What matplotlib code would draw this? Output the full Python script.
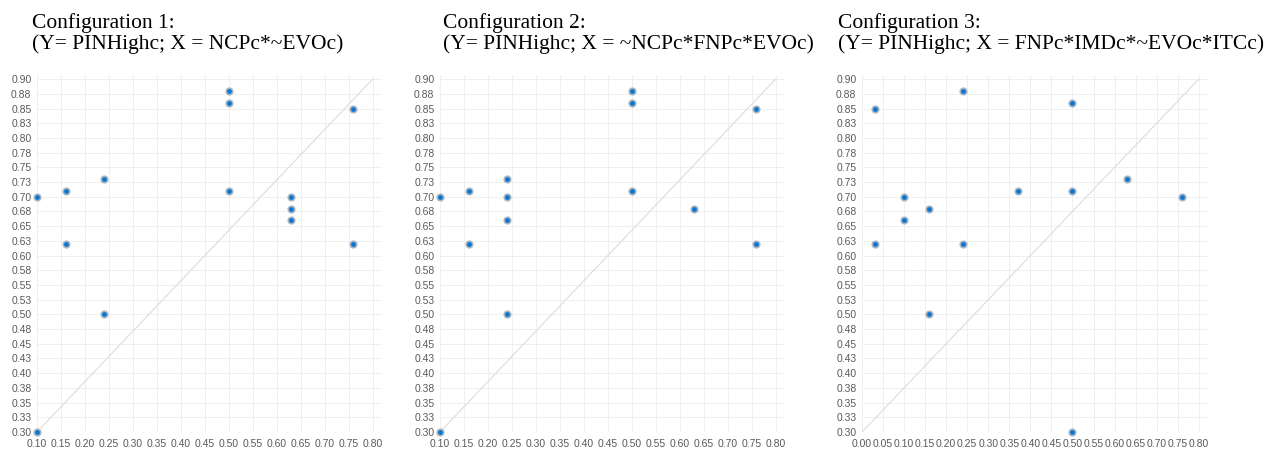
import numpy as np
from matplotlib import pyplot as plt

# fuzzy-set membership scores
x1 = [0.10, 0.10, 0.16, 0.16, 0.24, 0.24, 0.50, 0.50, 0.50, 0.63, 0.63, 0.63, 0.76, 0.76]
y1 = [0.70, 0.30, 0.71, 0.62, 0.73, 0.50, 0.88, 0.86, 0.71, 0.70, 0.68, 0.66, 0.85, 0.62]

x2 = [0.10, 0.10, 0.16, 0.16, 0.24, 0.24, 0.24, 0.24, 0.50, 0.50, 0.50, 0.63, 0.76, 0.76]
y2 = [0.70, 0.30, 0.71, 0.62, 0.73, 0.70, 0.66, 0.50, 0.88, 0.86, 0.71, 0.68, 0.85, 0.62]

x3 = [0.03, 0.03, 0.10, 0.10, 0.16, 0.16, 0.24, 0.24, 0.37, 0.50, 0.50, 0.50, 0.63, 0.76]
y3 = [0.85, 0.62, 0.70, 0.66, 0.68, 0.50, 0.88, 0.62, 0.71, 0.86, 0.71, 0.30, 0.73, 0.70]

titles = ["Configuration 1:\n(Y= PINHighc; X = NCPc*~EVOc)",
          "Configuration 2:\n(Y= PINHighc; X = ~NCPc*FNPc*EVOc)",
          "Configuration 3:\n(Y= PINHighc; X = FNPc*IMDc*~EVOc*ITCc)"]

xstart = [0.10, 0.10, 0.00]

ytick_labels = ["0.30", "0.33", "0.35", "0.38", "0.40", "0.43", "0.45", "0.48", "0.50",
                "0.53", "0.55", "0.58", "0.60", "0.63", "0.65", "0.68", "0.70", "0.73",
                "0.75", "0.78", "0.80", "0.83", "0.85", "0.88", "0.90"]

fig = plt.figure(figsize=(12.8, 4.5), dpi=100)
plt.rcParams['font.family'] = ['Liberation Sans', 'DejaVu Sans']

lefts = [37/1280, 440/1280, 862/1280]
title_x = [32/1280, 443/1280, 838/1280]
w = 345/1280
b = 1 - 432/450
h = (432-75)/450

data = [(x1, y1), (x2, y2), (x3, y3)]
for i in range(3):
    ax = fig.add_axes([lefts[i], b, w, h])
    xs, ys = data[i]
    x0 = xstart[i]
    xt = np.round(np.arange(x0, 0.8001, 0.05), 2)
    yt = np.linspace(0.30, 0.90, 25)
    ax.set_xlim(x0, 0.8 + 0.0195)
    ax.set_ylim(0.30, 0.907)
    ax.set_xticks(xt)
    ax.set_xticklabels(["%.2f" % v for v in xt])
    ax.set_yticks(yt)
    ax.set_yticklabels(ytick_labels)
    ax.tick_params(length=0, labelsize=7.5, labelcolor='#5a5a5a')
    ax.tick_params(axis='x', pad=5)
    ax.tick_params(axis='y', pad=4)
    for s in ax.spines.values():
        s.set_visible(False)
    ax.grid(True, color='#ececec', linewidth=0.6)
    ax.set_axisbelow(True)
    ax.plot([x0, 0.8], [0.30, 0.90], color='#dcdcdc', linewidth=0.8, zorder=1)
    ax.scatter(xs, ys, s=22, facecolor='#0a78d2', edgecolor='#aab6c2',
               linewidths=1.2, zorder=3, clip_on=False)
    fig.text(title_x[i], 1 - 13/450, titles[i], ha='left', va='top',
             family=['Liberation Serif', 'DejaVu Serif'], fontsize=15.5,
             linespacing=1.12, color='#000000')

fig.savefig('out.png', dpi=100)
